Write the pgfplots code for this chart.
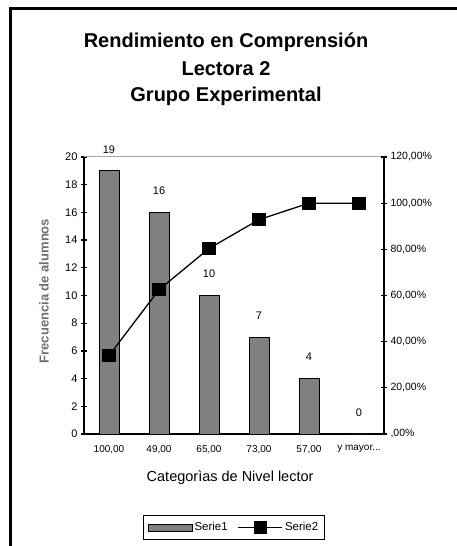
\documentclass[border=0pt]{standalone}
\usepackage{pgfplots}
\pgfplotsset{compat=1.18}
\usepackage{fontspec}
\setmainfont{Liberation Sans}
\definecolor{bargray}{RGB}{128,128,128}
\definecolor{labgray}{RGB}{110,110,110}
\pgfplotsset{
  barlegend/.style={legend image code/.code={\draw[fill=bargray,draw=black,line width=0.8pt] (0pt,-3.5pt) rectangle (44pt,3.5pt);}},
  linelegend/.style={legend image code/.code={\draw[mark repeat=2,mark phase=2,##1] plot coordinates {(0pt,0pt)(22pt,0pt)(44pt,0pt)};}},
}
\begin{document}
\begin{tikzpicture}
\useasboundingbox (0,0) rectangle (456pt,546pt);
\draw[line width=2.5pt] (10.5pt,0) -- (10.5pt,537.5pt) -- (460pt,537.5pt);
\node[font=\bfseries\fontsize{20}{24}\selectfont] at (226pt,504pt) {Rendimiento en Comprensión};
\node[font=\bfseries\fontsize{20}{24}\selectfont] at (226pt,477pt) {Lectora 2};
\node[font=\bfseries\fontsize{20}{24}\selectfont] at (226pt,450pt) {Grupo Experimental};
\begin{axis}[
  at={(84pt,112pt)}, anchor=south west,
  scale only axis, width=300pt, height=277pt,
  xmin=-0.5, xmax=5.5, ymin=0, ymax=20,
  axis x line*=bottom, axis y line*=left,
  axis line style={line width=1.3pt, -},
  xtick={0,1,2,3,4,5},
  xticklabels={{100,00},{49,00},{65,00},{73,00},{57,00},{y mayor{.}{.}{.}}},
  x tick style={draw=none},
  extra x ticks={-0.5,0.5,1.5,2.5,3.5,4.5,5.5},
  extra x tick labels={},
  extra x tick style={tick style={draw=black, line width=1.3pt}, major tick length=6pt, tick align=center},
  ytick={0,2,4,6,8,10,12,14,16,18,20},
  y tick style={draw=black, line width=1.3pt},
  major tick length=6pt, tick align=center,
  /pgf/number format/assume math mode=true,
  yticklabel style={font=\fontsize{11}{13}\selectfont},
  xticklabel style={font=\fontsize{10}{12}\selectfont, yshift=-2pt},
  xlabel={Categorìas de Nivel lector},
  xlabel style={at={(axis description cs:0.487,-0.159)}, anchor=center, font=\fontsize{14.5}{17}\selectfont},
  ylabel={Frecuencia de alumnos},
  ylabel style={at={(axis description cs:-0.133,0.516)}, anchor=center, font=\bfseries\fontsize{13}{15}\selectfont, text=labgray},
  ybar, bar width=20pt,
  nodes near coords,
  nodes near coords style={font=\fontsize{11}{13}\selectfont, yshift=14pt},
  clip=false,
]
\addplot[fill=bargray, draw=black, line width=0.8pt] coordinates {(0,19) (1,16) (2,10) (3,7) (4,4) (5,0)};
\draw[color=gray!70, line width=1pt] (rel axis cs:0,1) -- (rel axis cs:1,1);
\end{axis}
\begin{axis}[
  at={(84pt,112pt)}, anchor=south west,
  scale only axis, width=300pt, height=277pt,
  xmin=-0.5, xmax=5.5, ymin=0, ymax=120,
  axis x line=none, axis y line*=right,
  axis line style={line width=1.3pt, -},
  ytick={0,20,40,60,80,100,120},
  yticklabels={{,00\%},{20,00\%},{40,00\%},{60,00\%},{80,00\%},{100,00\%},{120,00\%}},
  y tick style={draw=black, line width=1.3pt},
  major tick length=6pt, tick align=center,
  yticklabel style={font=\fontsize{10.5}{12}\selectfont},
  legend columns=2,
  legend style={at={(0.5,-0.3375)}, anchor=center, draw=black, line width=1.3pt,
    font=\fontsize{11.5}{13}\selectfont, inner xsep=4pt, inner ysep=5pt,
    /tikz/every even column/.append style={column sep=8pt}},
  clip=false,
]
\addlegendimage{barlegend}
\addlegendentry{Serie1}
\addplot[black, line width=1.3pt, mark=square*, mark size=6pt, linelegend] coordinates {(0,33.93) (1,62.5) (2,80.36) (3,92.86) (4,100) (5,100)};
\addlegendentry{Serie2}
\end{axis}
\end{tikzpicture}
\end{document}
